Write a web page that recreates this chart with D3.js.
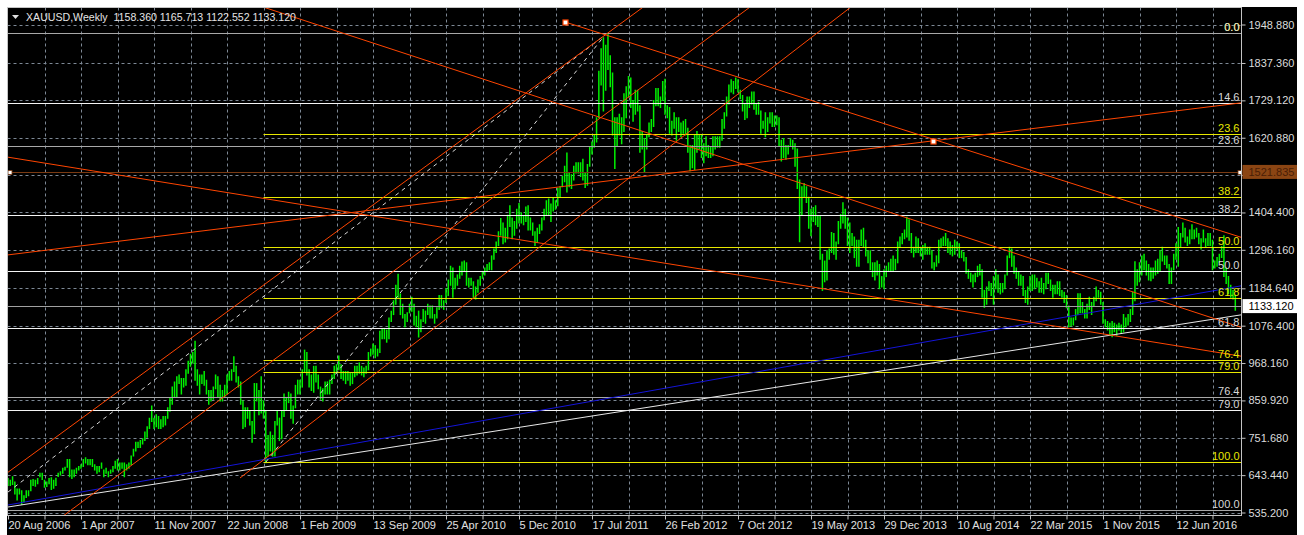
<!DOCTYPE html>
<html><head><meta charset="utf-8">
<script src="https://cdn.jsdelivr.net/npm/d3@7/dist/d3.min.js"></script>
<style>
html,body{margin:0;padding:0;background:#fff;}
svg{display:block;}
text{font-family:"Liberation Sans",Arial,sans-serif;font-size:11px;}
</style></head><body>
<svg id="c" width="1304" height="535"></svg>
<script>
// ---------------- data ----------------
const symbolTitle = "XAUUSD,Weekly";
const lastOHLC = [1158.360, 1165.713, 1122.552, 1133.120];
const priceTicks = [1948.88,1837.36,1729.12,1620.88,1512.64,1404.40,1296.16,1184.64,1076.40,968.16,859.92,751.68,643.44,535.20];
const timeLabels = ["20 Aug 2006","1 Apr 2007","11 Nov 2007","22 Jun 2008","1 Feb 2009","13 Sep 2009","25 Apr 2010","5 Dec 2010","17 Jul 2011","26 Feb 2012","7 Oct 2012","19 May 2013","29 Dec 2013","10 Aug 2014","22 Mar 2015","1 Nov 2015","12 Jun 2016"];
const barsPerLabel = 32;
const barsPerGrid = 16;

// weekly highs / lows, one per bar from the week of 20 Aug 2006
const highs = [
635,630,640,625,605,605,600,585,600,600,630,632,630,635,650,650,630,625,635,637,
630,636,650,655,665,668,690,690,660,660,665,670,675,690,695,690,690,690,675,670,670,680,660,665,655,660,670,685,690,680,680,680,675,680,700,720,740,740,745,750,770,785,810,845,810,820,815,805,815,815,840,870,
900,915,930,935,925,925,950,975,995,1000,1033,950,935,935,945,920,890,890,900,935,930,905,890,905,935,945,950,988,960,930,915,860,840,840,830,800,910,910,890,930,860,830,760,770,760,800,830,810,830,880,870,885,
880,845,905,920,920,950,1007,1000,950,935,960,960,935,900,895,915,915,920,935,960,965,990,965,945,945,945,940,940,960,960,970,960,955,960,1000,1010,1025,1020,1010,1062,1070,1070,1065,1100,1120,1150,1195,1227,1170,1140,1110,1115,
1140,1160,1140,1105,1120,1095,1125,1120,1140,1135,1135,1110,1130,1165,1165,1150,1185,1210,1250,1245,1215,1225,1250,1262,1265,1260,1215,1215,1205,1190,1210,1220,1235,1245,1255,1260,1280,1300,1320,1350,1388,1375,1360,1398,1425,1390,1380,1415,1432,1405,1395,1422,
1425,1390,1375,1350,1360,1370,1390,1415,1440,1445,1430,1448,1440,1475,1480,1510,1540,1578,1520,1515,1540,1550,1550,1550,1560,1520,1545,1595,1610,1630,1680,1815,1880,1912,1890,1921,1860,1810,1680,1680,1690,1680,1750,1770,1800,1795,1730,1760,1760,1715,1640,1620,
1630,1665,1675,1730,1765,1765,1740,1785,1792,1715,1710,1670,1695,1680,1680,1665,1670,1675,1650,1600,1600,1630,1640,1630,1630,1605,1625,1600,1595,1625,1625,1625,1625,1675,1695,1740,1775,1790,1785,1795,1790,1760,1745,1720,1740,1740,1755,1755,1720,1725,1700,1670,1695,
1680,1695,1695,1685,1685,1680,1615,1620,1600,1600,1620,1615,1605,1590,1500,1480,1490,1480,1450,1415,1420,1425,1395,1395,1285,1265,1295,1300,1348,1345,1320,1380,1400,1434,1415,1390,1375,1345,1335,1325,1325,1355,1360,1325,1295,1295,1260,1260,1265,1255,1220,1240,
1250,1260,1270,1280,1270,1320,1335,1345,1355,1392,1385,1345,1305,1335,1330,1305,1310,1315,1305,1305,1295,1260,1280,1325,1330,1335,1345,1330,1320,1310,1325,1320,1315,1295,1290,1275,1240,1230,1225,1230,1250,1255,1240,1180,1190,1205,1200,1220,1240,1225,1200,1200,
1225,1280,1305,1300,1280,1245,1235,1225,1220,1180,1190,1220,1225,1225,1215,1205,1215,1200,1230,1230,1210,1195,1195,1205,1205,1180,1175,1165,1135,1100,1100,1125,1170,1170,1145,1125,1140,1160,1145,1160,1190,1180,1175,1145,1095,1090,1085,1090,1085,1080,1085,1080,
1110,1100,1110,1125,1175,1263,1240,1260,1280,1285,1265,1255,1245,1245,1265,1270,1295,1305,1280,1280,1255,1245,1285,1315,1362,1345,1375,1360,1335,1355,1370,1355,1360,1345,1330,1355,1330,1345,1345,1325,1265,1275,1285,1307,1338,1245,1220,1195,1180,1165.713
];
const lows = [
615,615,618,590,573,590,560,567,580,585,600,615,613,620,640,632,610,612,620,603,
607,615,641,645,650,660,668,640,635,640,650,660,665,670,680,675,675,670,660,650,655,665,640,650,640,650,655,665,660,660,665,640,660,665,675,700,715,725,725,735,745,755,780,800,780,785,780,780,785,790,810,830,
850,870,870,910,880,900,905,940,960,970,920,905,880,910,905,880,850,860,865,895,870,860,860,870,880,920,920,945,915,900,850,780,785,810,790,740,765,860,820,825,810,681,700,715,700,700,790,745,750,815,835,855,
810,795,840,880,880,900,945,935,900,890,885,915,895,865,860,880,880,880,910,925,940,950,925,920,910,920,905,910,930,935,940,935,930,940,950,990,995,985,990,1000,1040,1040,1030,1040,1090,1110,1140,1160,1110,1100,1075,1090,
1115,1120,1080,1075,1045,1060,1090,1085,1110,1100,1100,1085,1100,1125,1130,1125,1145,1165,1195,1160,1185,1195,1215,1225,1235,1195,1190,1195,1160,1155,1175,1195,1215,1225,1235,1240,1240,1270,1290,1310,1340,1315,1320,1330,1365,1330,1340,1360,1375,1375,1370,1380,
1355,1355,1340,1310,1320,1345,1355,1385,1400,1400,1380,1410,1415,1425,1450,1480,1495,1465,1480,1475,1500,1520,1520,1510,1500,1478,1485,1540,1575,1595,1610,1680,1775,1700,1760,1820,1770,1630,1533,1600,1630,1605,1640,1680,1740,1710,1670,1690,1700,1580,1590,1523,
1590,1625,1640,1655,1715,1715,1710,1730,1690,1680,1635,1630,1650,1615,1640,1625,1635,1630,1580,1527,1535,1530,1580,1590,1565,1550,1570,1565,1565,1570,1590,1595,1595,1615,1650,1685,1720,1755,1750,1765,1755,1735,1700,1675,1680,1710,1720,1705,1690,1690,1635,1650,1625,
1640,1665,1655,1655,1660,1600,1555,1565,1560,1575,1600,1590,1540,1475,1321,1400,1450,1435,1360,1338,1380,1370,1365,1270,1180,1205,1210,1270,1290,1285,1270,1315,1360,1375,1360,1310,1290,1310,1275,1250,1250,1310,1305,1280,1260,1240,1220,1210,1225,1185,1190,1185,
1220,1235,1235,1235,1240,1260,1305,1315,1330,1335,1325,1290,1277,1290,1290,1280,1270,1285,1285,1285,1245,1240,1250,1260,1305,1310,1310,1290,1285,1280,1285,1300,1275,1275,1265,1230,1215,1205,1190,1205,1220,1225,1160,1131,1140,1180,1165,1140,1185,1175,1170,1175,
1185,1225,1275,1250,1230,1215,1195,1195,1165,1145,1140,1180,1180,1185,1190,1175,1175,1170,1185,1200,1180,1160,1170,1170,1165,1160,1145,1130,1075,1077,1080,1095,1110,1115,1115,1100,1100,1125,1110,1135,1150,1160,1140,1085,1075,1065,1050,1046,1060,1050,1065,1055,
1060,1075,1080,1090,1110,1150,1195,1205,1225,1240,1225,1210,1208,1215,1225,1230,1235,1265,1255,1245,1200,1200,1240,1270,1250,1305,1335,1320,1310,1315,1330,1330,1335,1315,1300,1320,1305,1310,1310,1240,1245,1250,1260,1275,1220,1200,1170,1160,1155,1122.552
];

// Fibonacci retracements (price anchors + levels)
const fibTop = 1924.3;
const fibWhiteBottom = 542.4;
const fibYellowBottom = 682.9;
const fibYellowStartBar = 112;
const fibWhiteLevels = [0, 14.6, 23.6, 38.2, 50.0, 61.8, 76.4, 79.0, 100.0];
const fibYellowLevels = [0, 23.6, 38.2, 50.0, 61.8, 76.4, 79.0, 100.0];
const fibWhiteDim = [0, 23.6, 76.4, 100.0];

const hLinePrice = 1521.835;
const bidPrice = 1133.120;

// trend lines: [bar1, price1, bar2, price2]
const redLines = [
  [244.2, 1956.1, 540.1, 1333.3],
  [111.8, 1999.6, 540.1, 1072.5],
  [-0.44, 1565.0, 540.1, 988.5],
  [-0.44, 1281.1, 540.1, 1721.5],
  [-0.44, 649.6, 278.5, 1999.6],
  [25.9, 533.7, 325.3, 1999.6],
  [101.7, 635.2, 367.8, 1990.9]
];
const redLineKinds = ["ray","line","line","line","line","line","ray"];
const blueLine = [0, 556.9, 540.1, 1191.3];
const whiteLine = [0, 551.1, 540.1, 1107.3];
const dashedLines = [
  [0, 594.5, 261.7, 1918.5],
  [113, 681, 261.7, 1918.5]
];
const lineMarkers = [[244.2, 0], [405.5, 3]]; // [bar, index of red line]

// ---------------- drawing ----------------
const svg = d3.select("#c");
const L = 7.5, R = 1241.5, T = 7.5, B = 515.5;

const x = d3.scaleLinear().domain([0, 512]).range([8, 1176]);
const y = d3.scaleLinear().domain([535.2, 1948.88]).range([512.5, 24.5]);

svg.append("rect").attr("x",7).attr("y",7).attr("width",1290).attr("height",528).attr("fill","#000");

const defs = svg.append("defs");
defs.append("clipPath").attr("id","plot")
  .append("rect").attr("x",L).attr("y",T).attr("width",R-L).attr("height",B-T);

// grid
const grid = svg.append("g").attr("stroke","#7d8895").attr("stroke-dasharray","3,3").attr("stroke-width",1);
priceTicks.forEach(p => {
  const yy = Math.round(y(p)) + 0.5;
  grid.append("line").attr("x1",L).attr("x2",R).attr("y1",yy).attr("y2",yy);
});
const gridIdx = d3.range(barsPerGrid, 545, barsPerGrid).filter(i => x(i) < R - 2);
gridIdx.forEach(i => {
  const xx = Math.round(x(i)) + 0.5;
  grid.append("line").attr("x1",xx).attr("x2",xx).attr("y1",T).attr("y2",B);
});

const plot = svg.append("g").attr("clip-path","url(#plot)");

// bars
const bars = plot.append("g").attr("stroke","#00f000").attr("stroke-width",1.5);
highs.forEach((h, i) => {
  const xx = x(i);
  bars.append("line").attr("x1",xx).attr("x2",xx)
    .attr("y1", y(h)).attr("y2", y(lows[i]) + 1);
});

// fib helper
function drawFib(top, bottom, levels, x0, colorFn, textColorFn) {
  levels.forEach(lv => {
    const p = top - (top - bottom) * lv / 100;
    const yy = Math.round(y(p)) + 0.5;
    plot.append("line").attr("x1",x0).attr("x2",R).attr("y1",yy).attr("y2",yy)
      .attr("stroke",colorFn(lv)).attr("stroke-width",1);
    svg.append("text").attr("x",R-2).attr("y",yy-3).attr("text-anchor","end")
      .attr("fill",textColorFn(lv)).text(lv.toFixed(1));
  });
}
drawFib(fibTop, fibYellowBottom, fibYellowLevels, x(fibYellowStartBar), () => "#e8e800", () => "#e8e800");
drawFib(fibTop, fibWhiteBottom, fibWhiteLevels, L,
  lv => fibWhiteDim.includes(lv) ? "#a8a8a8" : "#f4f4f4",
  () => "#d8d8d8");

// horizontal lines
const hy = Math.round(y(hLinePrice)) + 0.5;
plot.append("line").attr("x1",L).attr("x2",R).attr("y1",hy).attr("y2",hy).attr("stroke","#7a3a12");
const by = Math.round(y(bidPrice)) + 0.5;
plot.append("line").attr("x1",L).attr("x2",R).attr("y1",by).attr("y2",by).attr("stroke","#a0a0a0");

// trend line helper
function seg(d, kind) {
  const x1 = x(d[0]), y1 = y(d[1]), x2 = x(d[2]), y2 = y(d[3]);
  const t0 = kind === "line" ? -10 : 0;
  const t1 = kind === "segment" ? 1 : 10;
  return [x1 + t0*(x2-x1), y1 + t0*(y2-y1), x1 + t1*(x2-x1), y1 + t1*(y2-y1)];
}
function drawLine(d, kind, color, dash) {
  const s = seg(d, kind);
  const l = plot.append("line").attr("x1",s[0]).attr("y1",s[1]).attr("x2",s[2]).attr("y2",s[3])
    .attr("stroke",color).attr("stroke-width",1);
  if (dash) l.attr("stroke-dasharray",dash);
}
drawLine(whiteLine, "line", "#e8e8e8");
drawLine(blueLine, "line", "#1414d8");
dashedLines.forEach(d => drawLine(d, "segment", "#d8d8d8", "4,4"));
redLines.forEach((d, k) => drawLine(d, redLineKinds[k], "#ff4500"));

// markers on lines
lineMarkers.forEach(m => {
  const d = redLines[m[1]];
  const p = d[1] + (d[3]-d[1]) * (m[0]-d[0]) / (d[2]-d[0]);
  svg.append("rect").attr("x",Math.round(x(m[0]))-2).attr("y",Math.round(y(p))-2)
    .attr("width",5).attr("height",5).attr("fill","#fff").attr("stroke","#ff4500").attr("stroke-width",1.2);
});
// markers on horizontal line
[L + 2.5, R - 1.5].forEach(mx => {
  svg.append("rect").attr("x",mx-2).attr("y",hy-2).attr("width",4).attr("height",4)
    .attr("fill","#fff").attr("stroke","#7a3a12").attr("stroke-width",0.8);
});

// frame
svg.append("rect").attr("x",L).attr("y",T).attr("width",R-L).attr("height",B-T)
  .attr("fill","none").attr("stroke","#c4c4c4").attr("stroke-width",1);

// price axis
const yAxis = d3.axisRight(y).tickValues(priceTicks).tickFormat(d3.format(".3f")).tickSize(4).tickPadding(3);
const ya = svg.append("g").attr("transform",`translate(${R},0)`).call(yAxis);
ya.select(".domain").remove();
ya.selectAll("line").attr("stroke","#c4c4c4");
ya.selectAll("text").attr("fill","#dcdcdc").style("font-family","Liberation Sans").style("font-size","11px");

// the tick label hidden by the horizontal-line price box only peeks out below it
const hBoxBottom = y(hLinePrice) + 7;
defs.append("clipPath").attr("id","underBox")
  .append("rect").attr("x",R).attr("y",hBoxBottom).attr("width",1304-R).attr("height",20);
ya.selectAll(".tick").filter(d => Math.abs(y(d) - y(hLinePrice)) < 12)
  .select("text").attr("clip-path","url(#underBox)").attr("transform",`translate(0,0)`);

// time axis
const xAxis = d3.axisBottom(x).tickValues(d3.range(0, 545, barsPerGrid).filter(i => x(i) < R - 2))
  .tickFormat(i => i % barsPerLabel === 0 ? timeLabels[i / barsPerLabel] : "").tickSize(4).tickPadding(2);
const xa = svg.append("g").attr("transform",`translate(0,${B})`).call(xAxis);
xa.select(".domain").remove();
xa.selectAll("line").attr("stroke","#c4c4c4");
xa.selectAll("text").attr("fill","#e0e0e0").attr("text-anchor","start").attr("x",0)
  .style("font-family","Liberation Sans").style("font-size","11px");

// price boxes
function priceBox(p, bg, fg) {
  const yy = y(p);
  svg.append("rect").attr("x",R+1).attr("y",yy-7).attr("width",1297-R-1).attr("height",14)
    .attr("fill",bg);
  svg.append("text").attr("x",R+7).attr("y",yy+4).attr("fill",fg).text(p.toFixed(3));
}
priceBox(hLinePrice, "#8b4513", "#4a1e06");
priceBox(bidPrice, "#ffffff", "#000000");

// header
svg.append("path").attr("d","M12,15 L19,15 L15.5,19 Z").attr("fill","#e0e0e0");
svg.append("text").attr("x",26).attr("y",21).attr("fill","#e4e4e4").style("font-size","10.6px")
  .attr("xml:space","preserve")
  .text(symbolTitle + "  " + lastOHLC.map(v => v.toFixed(3)).join(" "));
</script>
</body></html>
